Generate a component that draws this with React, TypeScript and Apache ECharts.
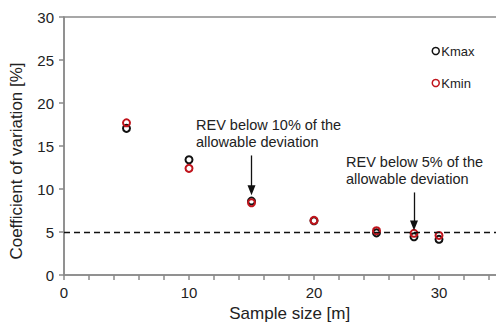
import React, { useEffect, useRef } from "react";
import * as echarts from "echarts";

const sampleSizes = [5, 10, 15, 20, 25, 28, 30];
const kmaxValues = [17.05, 13.4, 8.6, 6.3, 4.9, 4.45, 4.15];
const kminValues = [17.7, 12.4, 8.4, 6.35, 5.15, 4.85, 4.6];
const thresholdValue = 5;
const arrowLines = [
  { x: 15, from: 13.9, to: 9.85 },
  { x: 28, from: 9.6, to: 5.75 },
];
const annotationTexts = [
  "REV below 10% of the\nallowable deviation",
  "REV below 5% of the\nallowable deviation",
];

const FONT = "'Liberation Sans', Arial, sans-serif";

export default function App() {
  const ref = useRef<HTMLDivElement>(null);
  useEffect(() => {
    if (!ref.current) return;
    const chart = echarts.init(ref.current, null, { renderer: "svg" });
    const circleStyle = (c: string) => ({
      color: "transparent",
      borderColor: c,
      borderWidth: 2,
      opacity: 1,
    });
    chart.setOption({
      animation: false,
      textStyle: { fontFamily: FONT },
      grid: {
        left: 64,
        top: 17,
        bottom: 50,
        right: -5.5,
        outerBoundsMode: "none",
        containLabel: false,
        show: true,
        borderColor: "#8a8a8a",
        borderWidth: 1.5,
      },
      legend: {
        orient: "vertical",
        left: 426.5,
        top: 39.5,
        itemWidth: 7,
        itemHeight: 7,
        itemGap: 19,
        itemStyle: { borderWidth: 1.5 },
        textStyle: { fontSize: 13, color: "#222", fontFamily: FONT, padding: [0, 0, 0, -3] },
        data: ["Kmax", "Kmin"],
      },
      xAxis: {
        type: "value",
        min: 0,
        max: 35,
        interval: 2,
        name: "Sample size [m]",
        nameLocation: "middle",
        nameGap: 30,
        nameTextStyle: { fontSize: 17, color: "#222", fontFamily: FONT, padding: [0, 0, 0, 14] },
        axisLine: { show: true, lineStyle: { color: "#8a8a8a", width: 1.5 } },
        axisTick: { show: true, length: 5, lineStyle: { color: "#8a8a8a", width: 1.5 } },
        axisLabel: {
          fontSize: 15,
          color: "#222",
          margin: 10,
          fontFamily: FONT,
          formatter: (v: number) => (v % 10 === 0 ? String(v) : ""),
        },
        splitLine: { show: false },
      },
      yAxis: {
        type: "value",
        min: 0,
        max: 30,
        interval: 5,
        name: "Coefficient of variation [%]",
        nameLocation: "middle",
        nameGap: 39,
        nameTextStyle: { fontSize: 17, color: "#222", fontFamily: FONT, padding: [0, 30, 0, 0] },
        axisLine: { show: true, lineStyle: { color: "#8a8a8a", width: 1.5 } },
        axisTick: { show: true, length: 5, lineStyle: { color: "#8a8a8a", width: 1.5 } },
        axisLabel: { fontSize: 15, color: "#222", margin: 10, fontFamily: FONT },
        splitLine: { show: false },
      },
      series: [
        {
          name: "Kmax",
          type: "scatter",
          symbol: "circle",
          symbolSize: 7,
          itemStyle: circleStyle("#111"),
          data: sampleSizes.map((x, i) => [x, kmaxValues[i]]),
          markLine: {
            silent: true,
            symbol: "none",
            label: { show: false },
            lineStyle: { color: "#111", type: [6, 4], width: 1.3 },
            data: [{ yAxis: thresholdValue }],
          },
          z: 2,
        },
        {
          name: "Kmin",
          type: "scatter",
          symbol: "circle",
          symbolSize: 7,
          itemStyle: circleStyle("#c0141c"),
          data: sampleSizes.map((x, i) => [x, kminValues[i]]),
          markLine: {
            silent: true,
            symbol: ["none", "triangle"],
            symbolSize: [8, 10],
            label: { show: false },
            lineStyle: { color: "#111", type: "solid", width: 1.3 },
            data: arrowLines.map((a) => [
              { coord: [a.x, a.from] },
              { coord: [a.x, a.to], symbolRotate: 180 },
            ]),
          },
          z: 3,
        },
      ],
      graphic: [
        {
          type: "text",
          left: 196,
          top: 116,
          style: {
            text: annotationTexts[0],
            fontSize: 14.5,
            lineHeight: 17,
            fill: "#222",
            fontFamily: FONT,
          },
        },
        {
          type: "text",
          left: 346,
          top: 153,
          style: {
            text: annotationTexts[1],
            fontSize: 14.5,
            lineHeight: 17,
            fill: "#222",
            fontFamily: FONT,
          },
        },
      ],
    });
    return () => chart.dispose();
  }, []);
  return (
    <div
      ref={ref}
      style={{ position: "fixed", left: 0, top: 0, width: 496, height: 325, background: "#fff" }}
    />
  );
}
